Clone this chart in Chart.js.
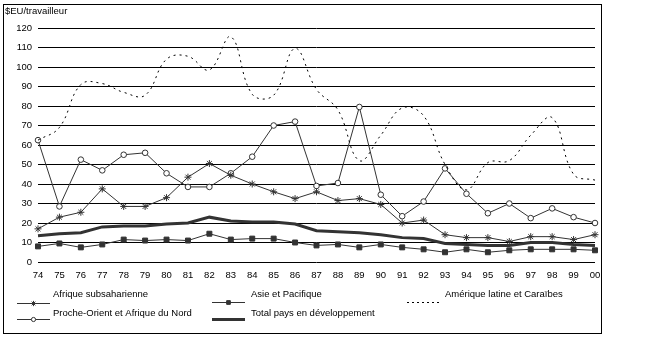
<!DOCTYPE html>
<html>
<head>
<meta charset="utf-8">
<script src="https://cdn.jsdelivr.net/npm/chart.js@4/dist/chart.umd.min.js"></script>
<style>
  html, body { margin: 0; padding: 0; background: #fff; }
  #wrap { position: relative; width: 655px; height: 342px; }
  canvas { display: block; }
</style>
</head>
<body>
<div id="wrap"><canvas id="c" width="655" height="342"></canvas></div>
<script>
// Années (1974–2000)
const years = ['74','75','76','77','78','79','80','81','82','83','84','85','86','87','88','89','90','91','92','93','94','95','96','97','98','99','00'];

// Aide par travailleur, $EU
const afriqueSub   = [17, 23, 25.5, 37.5, 28.5, 28.5, 33, 43.5, 50.5, 44.5, 40, 36, 32.5, 36, 31.5, 32.5, 29.5, 20, 21.5, 14, 12.5, 12.5, 10.5, 13, 13, 11.5, 14];
const asiePac      = [8, 9.5, 7.5, 9, 11.5, 11, 11.5, 11, 14.5, 11.5, 12, 12, 10, 8.5, 9, 7.5, 9, 7.5, 6.5, 5, 6.5, 5, 6, 6.5, 6.5, 6.5, 6];
const ameriqueLat  = [62.5, 69, 91, 91.5, 87, 85.5, 104, 105.5, 98.5, 115.5, 86, 85.5, 109.5, 88.5, 78, 52, 65, 79, 75, 50, 37, 51, 52, 65, 74, 45, 42];
const procheOrient = [62.5, 28.5, 52.5, 47, 55, 56, 45.5, 38.5, 38.5, 45.5, 54, 70, 72, 39, 40.5, 79.5, 34.5, 23.5, 31, 48, 35, 25, 30, 22.5, 27.5, 23, 20];
const totalPVD     = [13.5, 14.5, 15, 18, 18.5, 18.5, 19.5, 20, 23, 21, 20.5, 20.5, 19.5, 16, 15.5, 15, 14, 12.5, 12, 9.5, 9, 8.5, 8.5, 10, 10, 9, 8.5];

// Axe vertical
const yMin = 0, yMax = 120, yStep = 10;
const yTitle = '$EU/travailleur';

const FONT = '"Liberation Sans", Arial, sans-serif';
const FSIZE = 9.5;
const INK = '#333333';

const datasets = [
  { label: 'Afrique subsaharienne', data: afriqueSub, borderColor: INK, borderWidth: 1,
    pointStyle: 'star', pointRadius: 3.5, pointBorderColor: INK, pointBackgroundColor: INK, pointBorderWidth: 1,
    legendX: 17, legendY: 303, textX: 53, textY: 294 },
  { label: 'Asie et Pacifique', data: asiePac, borderColor: INK, borderWidth: 1,
    pointStyle: 'rect', pointRadius: 3.5, pointBorderColor: INK, pointBackgroundColor: INK, pointBorderWidth: 1,
    legendX: 212, legendY: 302, textX: 251, textY: 294 },
  { label: 'Amérique latine et Caraïbes', data: ameriqueLat, borderColor: '#000', borderWidth: 1,
    borderDash: [2, 4], tension: 0.4, pointRadius: 0,
    legendX: 407, legendY: 302, textX: 445, textY: 294 },
  { label: 'Proche-Orient et Afrique du Nord', data: procheOrient, borderColor: INK, borderWidth: 1,
    pointStyle: 'circle', pointRadius: 2.8, pointBorderColor: INK, pointBackgroundColor: '#fff', pointBorderWidth: 1,
    legendX: 17, legendY: 319, textX: 53, textY: 313 },
  { label: 'Total pays en développement', data: totalPVD, borderColor: INK, borderWidth: 3,
    pointRadius: 0,
    legendX: 212, legendY: 319, textX: 251, textY: 313 }
];

// Cadre, titre de l'axe et légende dessinés sur le canevas
const decorations = {
  id: 'decorations',
  afterDraw(chart) {
    const ctx = chart.ctx;
    ctx.save();
    // cadre extérieur
    ctx.strokeStyle = '#000';
    ctx.lineWidth = 1;
    ctx.setLineDash([]);
    ctx.strokeRect(3.5, 4.5, 598, 329);

    ctx.font = FSIZE + 'px ' + FONT;
    ctx.fillStyle = '#000';
    ctx.textBaseline = 'middle';
    ctx.textAlign = 'left';
    ctx.fillText(yTitle, 5, 11);

    // légende
    chart.data.datasets.forEach(ds => {
      const x0 = ds.legendX, x1 = ds.legendX + 33, y = ds.legendY + 0.5;
      ctx.beginPath();
      ctx.strokeStyle = ds.borderColor;
      ctx.lineWidth = ds.borderWidth;
      ctx.setLineDash(ds.borderDash ? [2, 3] : []);
      ctx.moveTo(x0, y);
      ctx.lineTo(x1, y);
      ctx.stroke();
      ctx.setLineDash([]);
      if (ds.pointRadius > 0 && Chart.helpers && Chart.helpers.drawPoint) {
        ctx.strokeStyle = ds.pointBorderColor;
        ctx.fillStyle = ds.pointBackgroundColor;
        ctx.lineWidth = ds.pointBorderWidth;
        Chart.helpers.drawPoint(ctx, {
          pointStyle: ds.pointStyle, radius: ds.pointRadius * 0.75, rotation: 0, borderWidth: 1
        }, (x0 + x1) / 2, y);
      }
      ctx.fillStyle = '#000';
      ctx.fillText(ds.label, ds.textX, ds.textY);
    });
    ctx.restore();
  }
};

new Chart(document.getElementById('c'), {
  type: 'line',
  data: { labels: years, datasets },
  options: {
    responsive: false,
    animation: false,
    devicePixelRatio: 1,
    layout: { padding: { left: 0, right: 60, top: 28, bottom: 0 } },
    plugins: { legend: { display: false }, tooltip: { enabled: false }, title: { display: false } },
    elements: { line: { fill: false } },
    scales: {
      x: {
        type: 'category',
        offset: false,
        grid: { display: false, drawTicks: false },
        border: { display: false },
        ticks: {
          color: '#000', font: { family: FONT, size: FSIZE },
          padding: 8, maxRotation: 0, autoSkip: false
        },
        afterFit(scale) { scale.height = 80; }
      },
      y: {
        min: yMin, max: yMax,
        grid: { color: '#000', lineWidth: 1, drawTicks: false },
        border: { display: false },
        ticks: {
          stepSize: yStep, color: '#000', font: { family: FONT, size: FSIZE }, padding: 6
        },
        afterFit(scale) { scale.width = 38; }
      }
    }
  },
  plugins: [decorations]
});
</script>
</body>
</html>
